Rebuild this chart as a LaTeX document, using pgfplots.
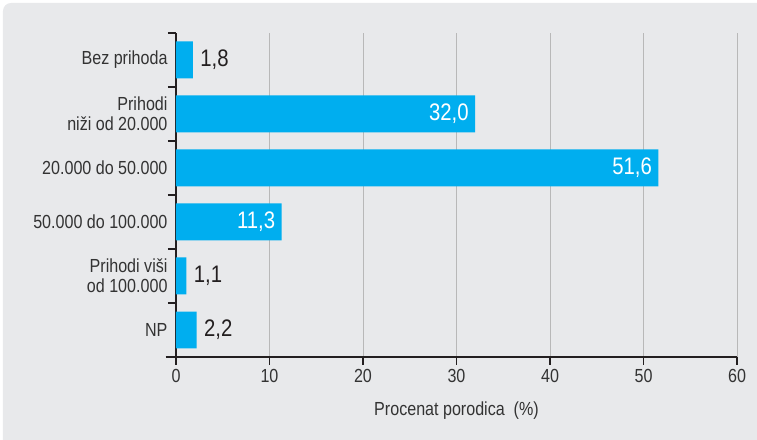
\documentclass[border=0pt]{standalone}
\usepackage{pgfplots}
\pgfplotsset{compat=1.18}
\usepackage{fontspec}
\setmainfont{Liberation Sans}[FakeStretch=0.85]
\definecolor{bg}{HTML}{E8E9EB}
\definecolor{barc}{HTML}{00AEEF}
\definecolor{axc}{HTML}{231F20}
\definecolor{gridc}{HTML}{B8B8B8}
\definecolor{txt}{HTML}{333333}
\pgfdeclarelayer{background}
\pgfsetlayers{background,main}
\pgfplotstableread{
x y lab
1.8 5 {1,8}
1.1 1 {1,1}
2.2 0 {2,2}
}\outside
\pgfplotstableread{
x y lab
32.0 4 {32,0}
51.6 3 {51,6}
11.3 2 {11,3}
}\inside
\begin{document}
\begin{tikzpicture}
\begin{axis}[
  scale only axis,
  width=561bp, height=324bp,
  xmin=0, xmax=60, ymin=-0.5, ymax=5.5,
  axis x line*=bottom, axis y line*=left,
  axis line style={axc, line width=1.3bp},
  xbar, bar width=0.685, bar shift=0,
  xtick={0,10,...,60}, ytick={0,...,5},
  yticklabels={NP, {Prihodi viši\\od 100.000}, 50.000 do 100.000, 20.000 do 50.000, {Prihodi\\niži od 20.000}, Bez prihoda},
  minor ytick={-0.5,0.5,...,5.5},
  tick align=outside, major tick length=8bp, minor tick length=8bp,
  major y tick style={draw=none},
  minor y tick style={axc, line width=1.3bp},
  major x tick style={axc, line width=1.3bp},
  xmajorgrids, grid style={gridc, line width=0.9bp},
  /pgf/number format/assume math mode=true,
  tick label style={font=\fontsize{19}{20}\selectfont, text=txt},
  yticklabel style={align=right, xshift=3bp},
  xticklabel style={yshift=-1bp},
  xlabel={Procenat porodica\ \ (\%)},
  xlabel style={font=\fontsize{19}{20}\selectfont, text=txt, yshift=-12bp},
  clip=false,
]
\addplot[fill=barc, draw=none, nodes near coords, point meta=explicit symbolic,
  every node near coord/.style={anchor=west, xshift=4bp, font=\fontsize{24}{26}\selectfont, text=axc}]
  table[x=x, y=y, meta=lab] {\outside};
\addplot[fill=barc, draw=none, nodes near coords, point meta=explicit symbolic,
  every node near coord/.style={anchor=east, xshift=-3bp, font=\fontsize{24}{26}\selectfont, text=white}]
  table[x=x, y=y, meta=lab] {\inside};
\draw[axc, line width=1.3bp] (axis cs:-1.1,-0.5) -- (axis cs:0,-0.5);
\coordinate (O) at (axis cs:0,-0.5);
\end{axis}
\begin{pgfonlayer}{background}
\begin{scope}[shift={(O)}, x=1bp, y=1bp]
\path[use as bounding box] (-176,-83) rectangle (581,357);
\clip (-176,-83) rectangle (581,357);
\fill[bg, rounded corners=8bp, overlay] (-173,-110) rectangle (610,354);
\end{scope}
\end{pgfonlayer}
\end{tikzpicture}
\end{document}
